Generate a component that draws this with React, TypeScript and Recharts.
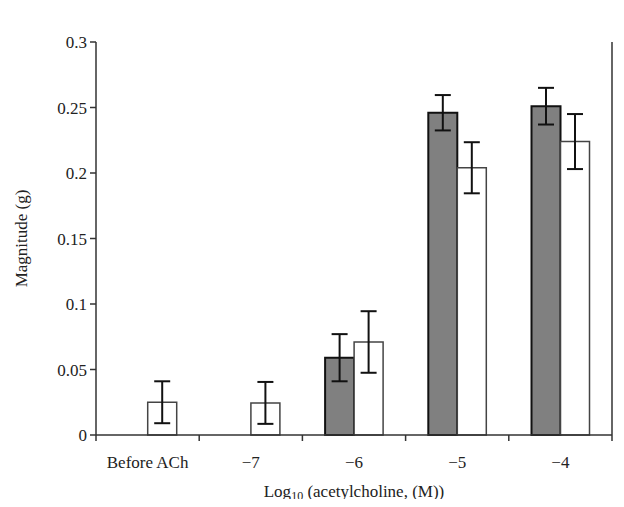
import React from 'react';
import { BarChart, Bar, XAxis, YAxis, ErrorBar, Label } from 'recharts';

const categories = ['Before ACh', '\u22127', '\u22126', '\u22125', '\u22124'];
const grayValues = [0, 0, 0.059, 0.246, 0.251];
const grayErrors = [null, null, 0.018, 0.0135, 0.014];
const whiteValues = [0.025, 0.0245, 0.071, 0.204, 0.224];
const whiteErrors = [0.016, 0.016, 0.0235, 0.0195, 0.021];
const yTicks = [0, 0.05, 0.1, 0.15, 0.2, 0.25, 0.3];

const data = categories.map((name, i) => ({
  name,
  gray: grayValues[i],
  grayErr: grayErrors[i],
  white: whiteValues[i],
  whiteErr: whiteErrors[i],
}));

const W = 608;
const H = 499;
const margin = { top: 34, right: 4, bottom: 9, left: 38 };
const yAxisWidth = 50;
const xAxisHeight = 63;
const plotWidth = W - margin.left - margin.right - yAxisWidth;
const plotHeight = H - margin.top - margin.bottom - xAxisHeight;
const band = plotWidth / categories.length;
const font = '"Liberation Serif", "DejaVu Serif", serif';
const axisColor = '#333';

const XTick = (props: any) => {
  const { x, y, payload, index } = props;
  const axisY = y - 7;
  const last = payload.value === categories[categories.length - 1];
  return (
    <g>
      {index === 0 && (
        <line x1={x - band / 2} x2={x - band / 2} y1={axisY} y2={axisY + 6} stroke={axisColor} strokeWidth={1.5} />
      )}
      <line
        x1={x + band / 2}
        x2={x + band / 2}
        y1={last ? axisY - plotHeight : axisY}
        y2={axisY + 6}
        stroke={axisColor}
        strokeWidth={1.5}
      />
      <text x={x} y={axisY + 33} textAnchor="middle" fontFamily={font} fontSize={17} fill="#222">
        {payload.value}
      </text>
    </g>
  );
};

const XTitle = (props: any) => {
  const { viewBox } = props;
  const cx = viewBox.x + viewBox.width / 2;
  return (
    <text x={cx} y={viewBox.y + 62} textAnchor="middle" fontFamily={font} fontSize={17} fill="#222">
      Log
      <tspan fontSize={12} dy={3}>10</tspan>
      <tspan dy={-3}> (acetylcholine, (M))</tspan>
    </text>
  );
};

const YTitle = (props: any) => {
  const { viewBox } = props;
  const cy = viewBox.y + viewBox.height / 2;
  const x = 19;
  return (
    <text x={x} y={cy} transform={`rotate(-90 ${x} ${cy})`} textAnchor="middle" fontFamily={font} fontSize={17} fill="#222">
      Magnitude (g)
    </text>
  );
};

export default function App() {
  return (
    <div style={{ marginBottom: -8 }}>
      <BarChart width={W} height={H} data={data} margin={margin} barCategoryGap="22%" barGap={0}>
        <XAxis
          dataKey="name"
          height={xAxisHeight}
          tickLine={false}
          tickSize={5}
          tickMargin={2}
          tick={<XTick />}
          axisLine={{ stroke: axisColor, strokeWidth: 1.5 }}
          interval={0}
        >
          <Label content={<XTitle />} />
        </XAxis>
        <YAxis
          width={yAxisWidth}
          domain={[0, 0.3]}
          ticks={yTicks}
          tickSize={6}
          tickMargin={3}
          tickLine={{ stroke: axisColor, strokeWidth: 1.5 }}
          axisLine={{ stroke: axisColor, strokeWidth: 1.5 }}
          tick={{ fontFamily: font, fontSize: 17, fill: '#222' }}
        >
          <Label content={<YTitle />} />
        </YAxis>
        <Bar dataKey="gray" fill="#808080" stroke="#111" strokeWidth={2} isAnimationActive={false}>
          <ErrorBar dataKey="grayErr" width={8} stroke="#111" strokeWidth={2} />
        </Bar>
        <Bar dataKey="white" fill="#fff" stroke="#444" strokeWidth={1.5} isAnimationActive={false}>
          <ErrorBar dataKey="whiteErr" width={8} stroke="#111" strokeWidth={2} />
        </Bar>
      </BarChart>
    </div>
  );
}
